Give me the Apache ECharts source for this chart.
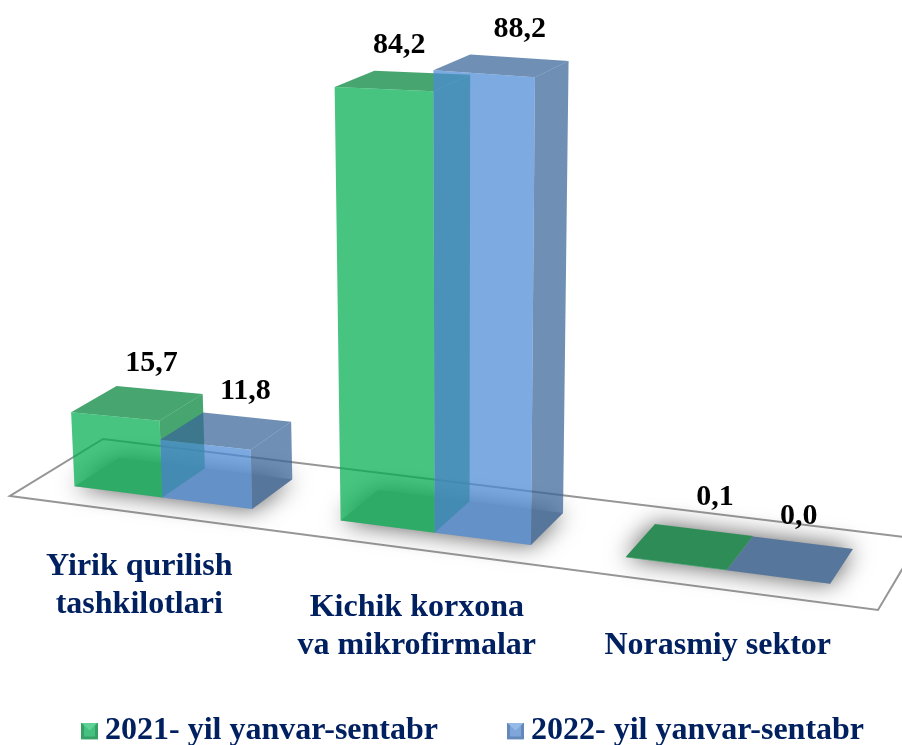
<!DOCTYPE html>
<html><head><meta charset="utf-8">
<style>html,body{margin:0;padding:0;background:#fff}#c{width:902px;height:745px}</style>
<script src="https://cdn.jsdelivr.net/npm/echarts@6/dist/echarts.min.js"></script>
</head><body><div id="c"></div>
<script>
const categories = ["Yirik qurilish\ntashkilotlari", "Kichik korxona\nva mikrofirmalar", "Norasmiy sektor"];
const series2021 = [15.7, 84.2, 0.1];
const series2022 = [11.8, 88.2, 0.0];
const seriesNames = ["2021- yil yanvar-sentabr", "2022- yil yanvar-sentabr"];

// layout of the tilted floor and label nudges
const FLOOR = [[10,496],[878,610],[920,539],[103,439]];
const GRID = {left:0, top:100, width:894, height:500};
const U_SPAN = 900;
const V0 = 0.25, V1 = 0.745, BAR = 0.3375, USHIFT = -0.002;
const FONT = '"Liberation Serif"';
const NAVY = '#002060';
const LABEL_NUDGE = [
  [[14,-40],[-4,-36],[25,-49]],
  [[19,-40],[18,-37],[8,-44]]
];
const CAT_NUDGE = [[-2,72],[-1,77],[3,57]];
const FACES = [
  {front:'rgba(3,175,81,0.73)',  side:'rgba(3,132,59,0.73)'},
  {front:'rgba(77,139,214,0.73)',side:'rgba(58,102,154,0.73)'}
];

// projective map of the unit floor square to the screen
const H = (function(){
  const [p0,p1,p2,p3] = FLOOR;
  const dx1=p1[0]-p2[0], dx2=p3[0]-p2[0], sx=p0[0]-p1[0]+p2[0]-p3[0];
  const dy1=p1[1]-p2[1], dy2=p3[1]-p2[1], sy=p0[1]-p1[1]+p2[1]-p3[1];
  const det=dx1*dy2-dx2*dy1;
  const g=(sx*dy2-dx2*sy)/det, h=(dx1*sy-sx*dy1)/det;
  return {a:p1[0]-p0[0]+g*p1[0], b:p3[0]-p0[0]+h*p3[0], c:p0[0],
          d:p1[1]-p0[1]+g*p1[1], e:p3[1]-p0[1]+h*p3[1], f:p0[1], g, h};
})();
function wOf(u,v){return H.g*u+H.h*v+1;}
function floorPt(u,v){const w=wOf(u,v);return [(H.a*u+H.b*v+H.c)/w,(H.d*u+H.e*v+H.f)/w];}
// lift a floor point by an axis-derived pixel height
function lift(u,v,axisPx){
  const p=floorPt(u,v);
  const s=(1.014/wOf(u,v))*(1-0.24*(u-0.55)*(u-0.55));
  const h=axisPx*s;
  return [p[0]+(p[0]-458)*0.0001175*h, p[1]-h];
}
function poly(points,fill){return {type:'polygon',shape:{points},style:{fill}};}

function renderFloor(){
  return {type:'polygon',shape:{points:[floorPt(0,0),floorPt(1,0),floorPt(1,1),floorPt(0,1)]},
    style:{fill:'none',stroke:'#969696',lineWidth:2,lineJoin:'miter'}};
}
function uCenter(api,i){return (api.coord([i,0])[0]-GRID.left)/U_SPAN+USHIFT;}
function renderShadow(params,api){
  const i=api.value(0), uc=uCenter(api,i);
  const b=api.size([1,0])[0]/U_SPAN*BAR;
  return {type:'polygon',shape:{points:[floorPt(uc-b,V0),floorPt(uc+b,V0),floorPt(uc+b,V1),floorPt(uc-b,V1)]},
    style:{fill:'#a2a2a2',shadowBlur:24,shadowColor:'#5a5a5a'}};
}
function barRenderer(si){
  return function(params,api){
    const i=api.value(0), val=api.value(1), uc=uCenter(api,i);
    const b=api.size([1,0])[0]/U_SPAN*BAR;
    const u0=si===0?uc-b:uc, u1=u0+b;
    const px=api.coord([i,0])[1]-api.coord([i,val])[1];
    const fl=floorPt(u0,V0), fr=floorPt(u1,V0), br=floorPt(u1,V1);
    const tfl=lift(u0,V0,px), tfr=lift(u1,V0,px), tbr=lift(u1,V1,px), tbl=lift(u0,V1,px);
    const cx=(tfl[0]+tfr[0]+tbr[0]+tbl[0])/4, cy=(tfl[1]+tfr[1]+tbr[1]+tbl[1])/4;
    const n=LABEL_NUDGE[si][i], f=FACES[si];
    return {type:'group',children:[
      poly([fr,br,tbr,tfr],f.side),
      poly([tfl,tfr,tbr,tbl],f.side),
      poly([fl,fr,tfr,tfl],f.front),
      {type:'text',z2:10,style:{text:val.toFixed(1).replace('.',','),x:cx+n[0],y:cy+n[1],
        align:'center',verticalAlign:'middle',fontFamily:FONT,fontWeight:'bold',fontSize:30,fill:'#000'}}
    ]};
  };
}
function renderCat(params,api){
  const i=api.value(0), p=floorPt(uCenter(api,i)+0.002,0), n=CAT_NUDGE[i];
  return {type:'text',style:{text:categories[i],x:p[0]+n[0],y:p[1]+n[1],align:'center',verticalAlign:'middle',
    fontFamily:FONT,fontWeight:'bold',fontSize:32,lineHeight:38,fill:NAVY}};
}
function icon(base,dark,light){
  const svg='<svg xmlns="http://www.w3.org/2000/svg" width="17" height="17">'+
   '<rect width="17" height="17" fill="'+base+'"/>'+
   '<polygon points="0,0 17,0 14,3 8.5,8 3,3" fill="'+light+'"/>'+
   '<polygon points="0,17 17,17 14,14 3,14" fill="'+dark+'"/>'+
   '<polygon points="0,0 3,3 3,14 0,17" fill="'+dark+'"/>'+
   '<polygon points="17,0 14,3 14,14 17,17" fill="'+dark+'"/></svg>';
  return 'image://data:image/svg+xml;charset=utf-8,'+encodeURIComponent(svg);
}
const catData = categories.map((c,i)=>[i,0]);
const chart = echarts.init(document.getElementById('c'),null,{renderer:'canvas'});
chart.setOption({
  animation:false,
  backgroundColor:'#fff',
  grid:GRID,
  xAxis:{type:'category',data:categories,show:false},
  yAxis:{type:'value',min:0,max:100,show:false},
  legend:{left:81,top:715,padding:0,itemGap:69,itemWidth:17,itemHeight:17,selectedMode:false,
    textStyle:{fontFamily:FONT,fontWeight:'bold',fontSize:32,color:NAVY,padding:[0,0,0,2]},
    data:[{name:seriesNames[0],icon:icon('#45C07E','#37A067','#5FD096')},
          {name:seriesNames[1],icon:icon('#7EA6DA','#6488B8','#97BBE8')}]},
  series:[
    {type:'custom',name:'floor',silent:true,data:[[0,0]],renderItem:renderFloor,encode:{x:0,y:1}},
    {type:'custom',name:'shadow',silent:true,data:catData,renderItem:renderShadow,encode:{x:0,y:1}},
    {type:'custom',name:seriesNames[0],itemStyle:{color:'#47C580'},renderItem:barRenderer(0),encode:{x:0,y:1},
      data:series2021.map((v,i)=>[i,v])},
    {type:'custom',name:seriesNames[1],itemStyle:{color:'#7DAAE1'},renderItem:barRenderer(1),encode:{x:0,y:1},
      data:series2022.map((v,i)=>[i,v])},
    {type:'custom',name:'labels',silent:true,data:catData,renderItem:renderCat,encode:{x:0,y:1}}
  ]
});
</script></body></html>
